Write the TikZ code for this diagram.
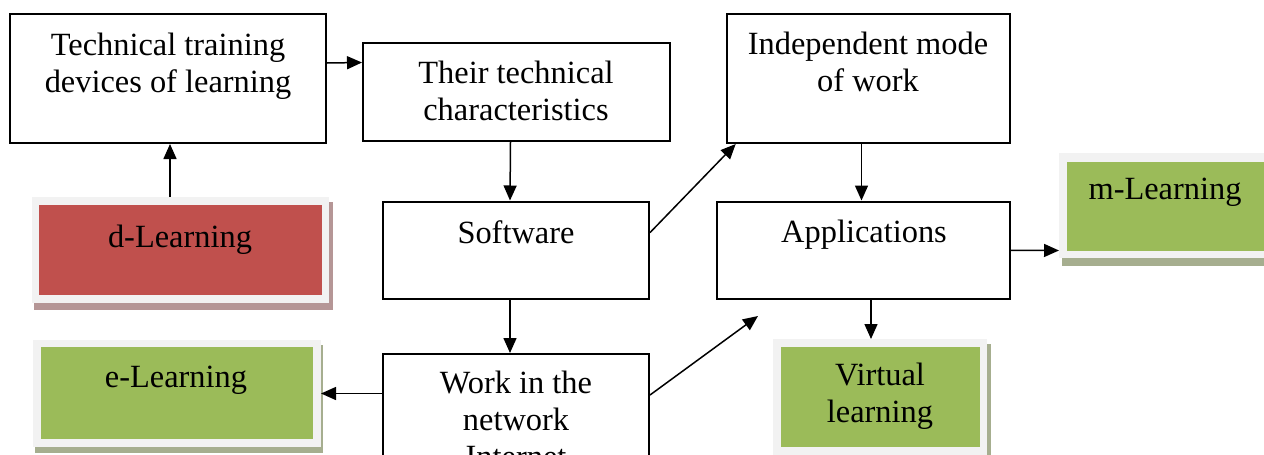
\documentclass[tikz,border=0pt]{standalone}
\usepackage{fontspec}
\setmainfont{Liberation Serif}
\usetikzlibrary{arrows.meta,fit}
\definecolor{redfill}{HTML}{C0504D}
\definecolor{greenfill}{HTML}{9BBB59}
\definecolor{framefill}{HTML}{F2F2F2}
\definecolor{redshadow}{HTML}{B59696}
\definecolor{greenshadow}{HTML}{A6AE8F}
\begin{document}
\begin{tikzpicture}[x=0.5pt,y=-0.5pt,
  box/.style={draw=black, line width=1pt, fill=white, inner sep=0pt, outer sep=0.5pt},
  framebox/.style={fill=framefill, draw=none, inner sep=0pt, outer sep=0pt},
  txt/.style={anchor=north, inner sep=0pt, align=center, font=\fontsize{16.2}{18.4}\selectfont},
  arr/.style={line width=0.75pt, -{Triangle[length=7.5pt,width=6.5pt]}}]
\useasboundingbox (0,0) rectangle (1264,455);
\clip (0,0) rectangle (1264,455);
% white boxes
\node[box, fit={(10,14) (326,143)}] (tt) {};
\node[txt] (ttt) at (168,33) {Technical training\\devices of learning};
\node[box, fit={(363,43) (670,141)}] (tc) {};
\node[txt] (tct) at (516,61) {Their technical\\characteristics};
\node[box, fit={(727,14) (1010,143)}] (im) {};
\node[txt] (imt) at (868,32) {Independent mode\\of work};
\node[box, fit={(383,201.5) (649,299.3)}] (sw) {};
\node[txt] (swt) at (516,220) {Software};
\node[box, fit={(717,201.5) (1010,299.3)}] (ap) {};
\node[txt] (apt) at (864,220) {Applications};
\node[box, fit={(383,354) (649,470)}] (wn) {};
\node[txt] (wnt) at (516,371) {Work in the\\network\\Internet};
% d-Learning
\fill[redshadow] (34,202) rectangle (333,310);
\node[framebox, fit={(32,197) (329,303)}] (dL) {};
\fill[redfill] (39,205) rectangle (322,295);
\node[txt] (dLt) at (180,225) {d-Learning};
% e-Learning
\fill[greenshadow] (35,345) rectangle (323,453);
\node[framebox, fit={(33,340) (321,447)}] (eL) {};
\fill[greenfill] (41,347) rectangle (313,439);
\node[txt] (eLt) at (176,366) {e-Learning};
% Virtual learning
\fill[greenshadow] (776,344) rectangle (991,475);
\node[framebox, fit={(773,339) (987,470)}] (vL) {};
\fill[greenfill] (781,347) rectangle (980,447);
\node[txt] (vLt) at (880,363) {Virtual\\learning};
% m-Learning
\fill[greenshadow] (1062,158) rectangle (1275,266);
\node[framebox, fit={(1059,153) (1270,258)}] (mL) {};
\fill[greenfill] (1067,162) rectangle (1275,251);
\node[txt] (mLt) at (1165,178) {m-Learning};
% connectors
\coordinate (wnend) at (758,316);
\draw[arr] ([yshift=7.75pt]tt.east) -- ([yshift=14.75pt]tc.west);
\draw[arr] ([xshift=-5.25pt]dL.north) -- ([xshift=1pt]tt.south);
\draw[arr] ([xshift=-3pt]tc.south) -- ([xshift=-3pt]sw.north);
\draw[arr] ([xshift=-3pt]sw.south) -- ([xshift=-3pt]wn.north);
\draw[arr] ([yshift=8.9pt]sw.east) -- ([xshift=4.85pt]im.south west);
\draw[arr] ([yshift=8.5pt]wn.east) -- (wnend);
\draw[arr] ([xshift=-3.5pt]im.south) -- ([xshift=-1pt]ap.north);
\draw[arr] ([xshift=3.75pt]ap.south) -- ([xshift=-4.5pt]vL.north);
\draw[arr] (ap.east) -- ([yshift=-22.5pt]mL.west);
\draw[arr] ([yshift=9.25pt]wn.west) -- (eL.east);
\end{tikzpicture}
\end{document}
